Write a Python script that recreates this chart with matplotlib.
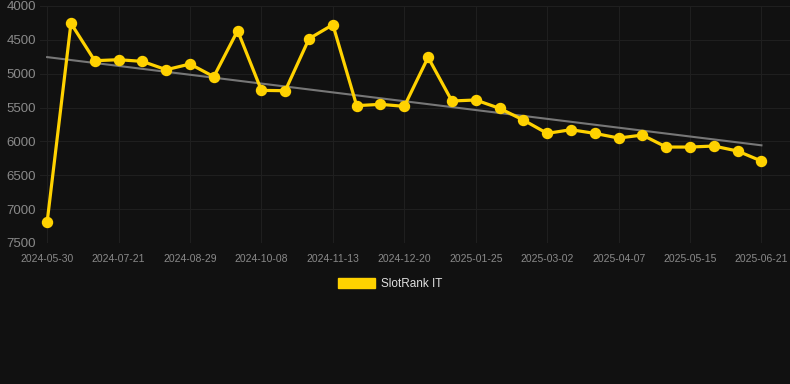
import numpy as np
import matplotlib
matplotlib.use("Agg")
import matplotlib.pyplot as plt
from matplotlib.patches import Patch

# rank values, one per data point (lower rank is better, axis inverted)
ranks = [7190, 4256, 4808, 4793, 4818, 4941, 4857, 5044, 4364, 5246, 5251,
         4483, 4276, 5472, 5452, 5482, 4758, 5403, 5388, 5511, 5684, 5881,
         5827, 5881, 5950, 5906, 6083, 6083, 6068, 6142, 6290]
tick_labels = ["2024-05-30", "2024-07-21", "2024-08-29", "2024-10-08",
               "2024-11-13", "2024-12-20", "2025-01-25", "2025-03-02",
               "2025-04-07", "2025-05-15", "2025-06-21"]
y_ticks = [4000, 4500, 5000, 5500, 6000, 6500, 7000, 7500]

plt.rcParams["font.family"] = ["Liberation Sans", "DejaVu Sans"]

bg = "#111111"
gold = "#FFD200"

x = np.arange(len(ranks))
slope, icept = np.polyfit(x, ranks, 1)

fig = plt.figure(figsize=(7.9, 3.84), dpi=100, facecolor=bg)
ax = fig.add_axes([40/790, 141/384, 750/790, 237/384], facecolor=bg)

ax.plot(x, slope*x + icept, color="#777777", lw=1.5, zorder=2)
ax.plot(x, ranks, color=gold, lw=2.3, marker="o", ms=7.2, zorder=3)

ax.set_ylim(7500, 4000)
ax.set_xlim(-0.3, 31.2)
ax.set_yticks(y_ticks)
ax.set_xticks(x[::3])
ax.set_xticklabels(tick_labels)

ax.grid(True, color="#1f1f1f", lw=0.8)
for s in ax.spines.values():
    s.set_visible(False)
ax.tick_params(axis="y", length=0, pad=3, labelsize=9.5, labelcolor="#8a8a8a")
ax.tick_params(axis="x", length=0, pad=8, labelsize=7.5, labelcolor="#8a8a8a")

leg = fig.legend(handles=[Patch(facecolor=gold, edgecolor=gold, label="SlotRank IT")],
                 loc="center", bbox_to_anchor=(390/790, 1 - 284/384),
                 frameon=False, handlelength=3.1, handleheight=0.9,
                 fontsize=8.5, labelcolor="#e0e0e0", handletextpad=0.5)

fig.savefig("out.png", dpi=100, facecolor=bg)
